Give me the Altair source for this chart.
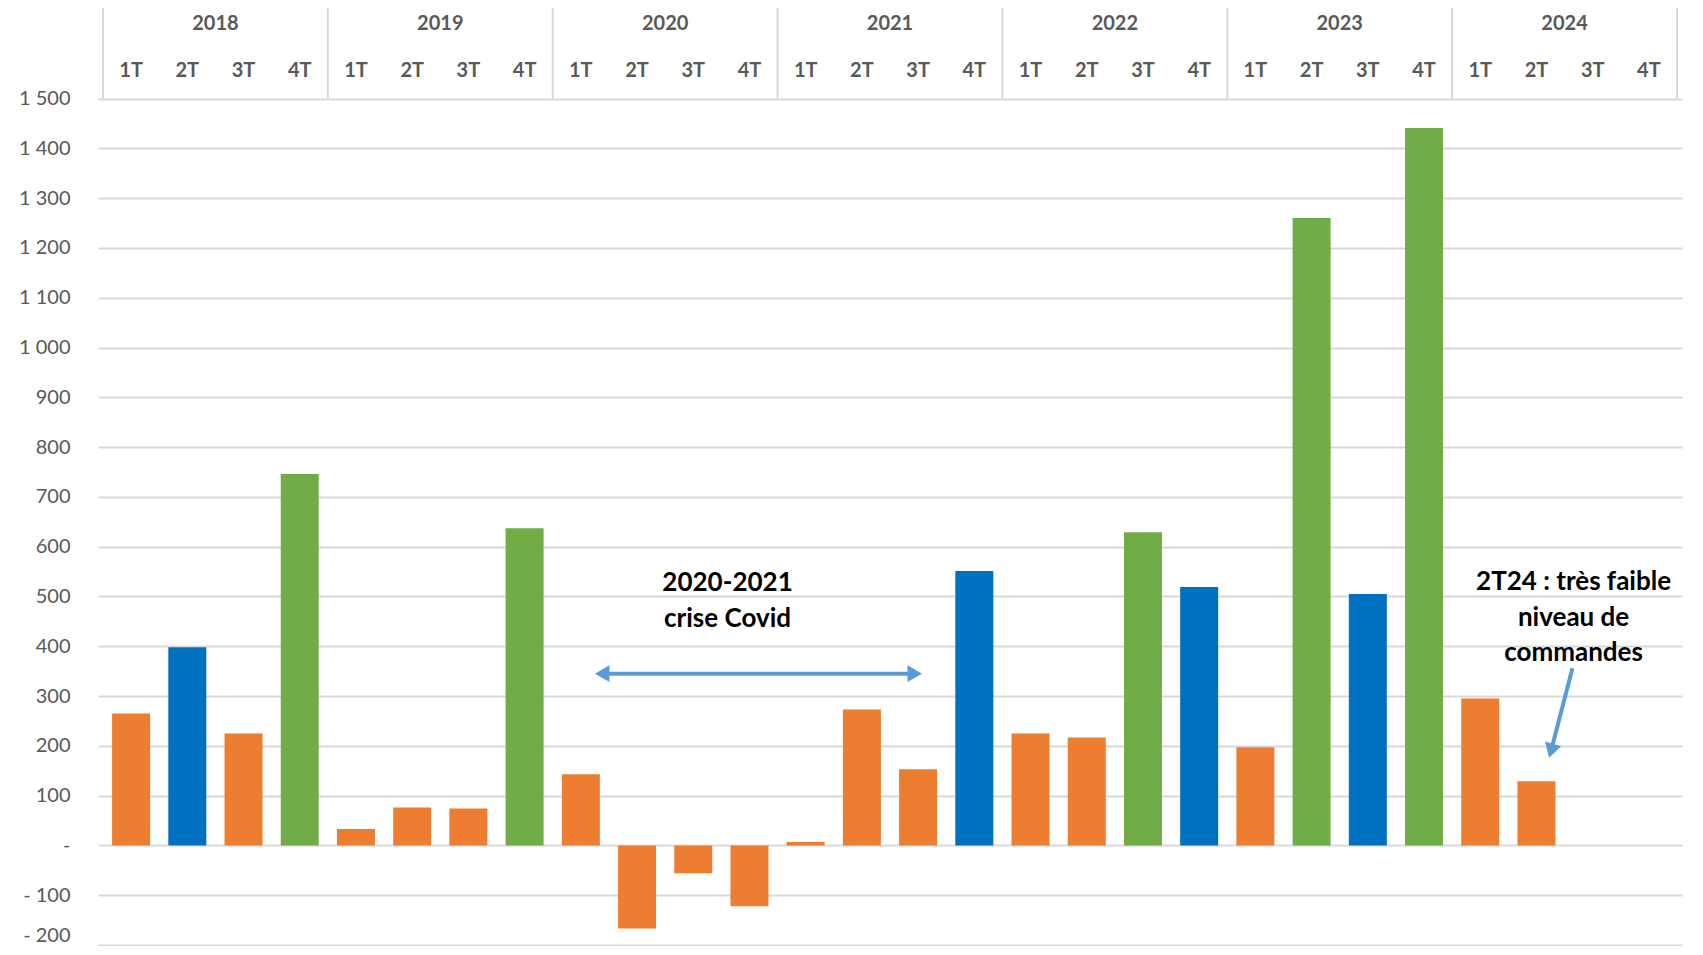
import altair as alt
import pandas as pd

# ---------------- data ----------------
YEARS = ["2018", "2019", "2020", "2021", "2022", "2023", "2024"]
QUARTERS = ["1T", "2T", "3T", "4T"]
VALUES = [265, 398, 225, 746,
          33, 76, 74, 637,
          143, -167, -56, -122,
          7, 273, 153, 551,
          225, 217, 629, 519,
          197, 1260, 505, 1441,
          295, 129]
BAR_GROUPS = ["orange", "blue", "orange", "green",
              "orange", "orange", "orange", "green",
              "orange", "orange", "orange", "orange",
              "orange", "orange", "orange", "blue",
              "orange", "orange", "green", "blue",
              "orange", "green", "blue", "green",
              "orange", "orange"]
GROUP_NAMES = ["orange", "blue", "green"]
GROUP_COLORS = ["#ED7D31", "#0070C0", "#70AD47"]
Y_TICKS = list(range(-200, 1501, 100))

# annotation texts (positions in data units: x = quarter index, y = value)
COVID_LINES = ["2020-2021", "crise Covid"]
COVID_X = 10.61
COVID_Y = [527, 454]
COVID_ARROW = dict(x=8.38, x2=13.94, y=345)

NOTE_LINES = ["2T24 : très faible", "niveau de", "commandes"]
NOTE_X = 25.66
NOTE_Y = [529, 457, 387]
NOTE_ARROW = dict(x=25.64, y=356, x2=25.26, y2=190, angle=196)

Y_MIN, Y_MAX = -202, 1682
Y_AXIS_TOP = 1500
Y_YEAR = 1649
Y_QUARTER = 1556

GRID = "#D9D9D9"
TXT = "#595959"
ARROW = "#5B9BD5"
FONT = "Lato"

# ---------------- tables ----------------
n_slots = len(YEARS) * len(QUARTERS)
bars_df = pd.DataFrame({
    "idx": list(range(len(VALUES))),
    "value": VALUES,
    "base": [0] * len(VALUES),
    "group": BAR_GROUPS,
})
quarter_df = pd.DataFrame({
    "idx": list(range(n_slots)),
    "label": [q for _ in YEARS for q in QUARTERS],
    "y": [Y_QUARTER] * n_slots,
})
year_df = pd.DataFrame({
    "idx": [i * 4 + 1.5 for i in range(len(YEARS))],
    "label": YEARS,
    "y": [Y_YEAR] * len(YEARS),
})
sep_df = pd.DataFrame({
    "x": [i * 4 - 0.5 for i in range(len(YEARS) + 1)],
    "y": [Y_AXIS_TOP] * (len(YEARS) + 1),
    "y2": [Y_MAX] * (len(YEARS) + 1),
})
annot_df = pd.DataFrame({
    "x": [COVID_X] * len(COVID_LINES) + [NOTE_X] * len(NOTE_LINES),
    "y": COVID_Y + NOTE_Y,
    "label": COVID_LINES + NOTE_LINES,
})
arrow_lines_df = pd.DataFrame({
    "x": [COVID_ARROW["x"], NOTE_ARROW["x"]],
    "x2": [COVID_ARROW["x2"], NOTE_ARROW["x2"]],
    "y": [COVID_ARROW["y"], NOTE_ARROW["y"]],
    "y2": [COVID_ARROW["y"], NOTE_ARROW["y2"]],
})
arrow_heads_df = pd.DataFrame({
    "x": [COVID_ARROW["x"], COVID_ARROW["x2"], NOTE_ARROW["x2"]],
    "y": [COVID_ARROW["y"], COVID_ARROW["y"], NOTE_ARROW["y2"]],
    "angle": [270, 90, NOTE_ARROW["angle"]],
})

xs = alt.Scale(domain=[-0.5, n_slots - 0.5], nice=False, zero=False)
ys = alt.Scale(domain=[Y_MIN, Y_MAX], nice=False, zero=False)

label_expr = ("datum.value == 0 ? '-\u00a0\u00a0' : (datum.value < 0 ? "
              "'- ' + replace(format(-datum.value, ','), ',', ' ') : "
              "replace(format(datum.value, ','), ',', ' '))")

y_axis = alt.Axis(
    values=Y_TICKS, labelExpr=label_expr, title=None, domain=False,
    ticks=False, grid=True, gridColor=GRID, gridWidth=2,
    labelFont=FONT, labelFontSize=20, labelColor=TXT, labelPadding=28,
    labelBaseline={"condition": {"test": "datum.value <= -200", "value": "bottom"},
                   "value": "middle"},
)


def X(field):
    return alt.X(field, scale=xs, axis=None)


def Y(field):
    return alt.Y(field, scale=ys, axis=y_axis)


bars = alt.Chart(bars_df).mark_bar(size=38, orient="vertical").encode(
    x=X("idx:Q"),
    y=Y("value:Q"),
    y2="base:Q",
    color=alt.Color("group:N", scale=alt.Scale(domain=GROUP_NAMES, range=GROUP_COLORS), legend=None),
)

seps = alt.Chart(sep_df).mark_rule(color=GRID, strokeWidth=2).encode(
    x=X("x:Q"), y=Y("y:Q"), y2="y2:Q",
)

quarters = alt.Chart(quarter_df).mark_text(
    font=FONT, fontWeight="bold", fontSize=20, color=TXT, baseline="middle", align="center"
).encode(x=X("idx:Q"), y=Y("y:Q"), text="label:N")

years = alt.Chart(year_df).mark_text(
    font=FONT, fontWeight="bold", fontSize=20, color=TXT, baseline="middle", align="center"
).encode(x=X("idx:Q"), y=Y("y:Q"), text="label:N")

annots = alt.Chart(annot_df).mark_text(
    font=FONT, fontWeight="bold", fontSize=26, color="#000000", baseline="middle", align="center"
).encode(x=X("x:Q"), y=Y("y:Q"), text="label:N")

arrow_lines = alt.Chart(arrow_lines_df).mark_rule(color=ARROW, strokeWidth=4).encode(
    x=X("x:Q"), x2="x2:Q", y=Y("y:Q"), y2="y2:Q",
)

arrow_heads = alt.Chart(arrow_heads_df).mark_point(
    shape="triangle-up", filled=True, size=280, color=ARROW, opacity=1
).encode(
    x=X("x:Q"), y=Y("y:Q"),
    angle=alt.Angle("angle:Q", scale=None),
)

chart = alt.layer(
    bars, seps, quarters, years, annots, arrow_lines, arrow_heads
).properties(
    width=1584,
    height=938,
    autosize=alt.AutoSizeParams(type="none"),
    padding={"left": 90, "top": 0, "right": 5, "bottom": 0},
).configure_view(stroke=None)

chart.save("out.html", embed_options={"renderer": "svg", "actions": False})
